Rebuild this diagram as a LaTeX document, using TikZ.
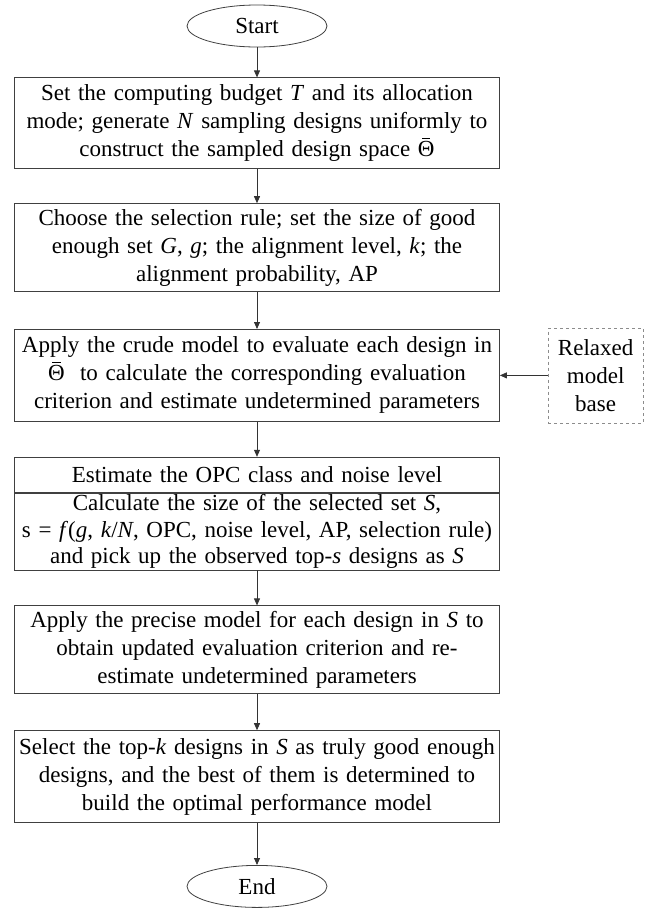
\documentclass[tikz,border=0pt]{standalone}
\usepackage{fontspec}
\setmainfont{Liberation Serif}
\usepackage{tikz}
\usetikzlibrary{arrows.meta, positioning, shapes.geometric}

\newcommand{\flowfont}{\fontsize{23}{28}\selectfont}
% theta with a short bar drawn as a rule
\newcommand{\thetabar}{\ooalign{\hfil\raisebox{0.76em}{\rule{0.36em}{0.05em}}\hfil\cr Θ}}

\begin{document}
\begin{tikzpicture}[
      node distance=36pt,
      flowbox/.style={
          draw=black!75,
          line width=0.8pt,
          rectangle,
          text width=477pt,
          inner xsep=4pt,
          inner ysep=2pt,
          align=center,
          font=\flowfont
      },
      terminal/.style={
          draw=black!75,
          line width=0.8pt,
          ellipse,
          minimum width=140pt,
          minimum height=42pt,
          font=\flowfont
      },
      arrow/.style={-{Triangle[length=7pt, width=6pt]}, line width=0.8pt, black!80}
  ]

  \useasboundingbox (0pt,0pt) rectangle (653pt,-908pt);

  % ==============================
  % main column
  % ==============================
  \node[terminal] (start) at (257pt,-26pt) {Start};

  \node[flowbox, minimum height=91pt, below=30pt of start] (budget)
      {Set the computing budget \textit{T} and its allocation\\
       mode; generate \textit{N} sampling designs uniformly to\\
       construct the sampled design space \thetabar};

  \node[flowbox, minimum height=88pt, below=34pt of budget] (rule)
      {Choose the selection rule; set the size of good\\
       enough set \textit{G}, \textit{g}; the alignment level, \textit{k}; the\\
       alignment probability, AP};

  \node[flowbox, minimum height=92pt, below=37pt of rule] (crude)
      {Apply the crude model to evaluate each design in\\
       \thetabar\ \ to calculate the corresponding evaluation\\
       criterion and estimate undetermined parameters};

  \node[flowbox, minimum height=35pt, below=35pt of crude] (opc)
      {Estimate the OPC class and noise level};

  \node[flowbox, minimum height=77pt, inner ysep=0pt,
        font=\fontsize{23}{26.5}\selectfont, below=0pt of opc] (size)
      {Calculate the size of the selected set \textit{S},\\
       s = \textit{f}(\textit{g}, \textit{k}/\textit{N}, OPC, noise level, AP, selection rule)\\
       and pick up the observed top-\textit{s} designs as \textit{S}};

  \node[flowbox, minimum height=88pt, below=35pt of size] (precise)
      {Apply the precise model for each design in \textit{S} to\\
       obtain updated evaluation criterion and re-\\
       estimate undetermined parameters};

  \node[flowbox, minimum height=92pt, below=36pt of precise] (select)
      {Select the top-\textit{k} designs in \textit{S} as truly good enough\\
       designs, and the best of them is determined to\\
       build the optimal performance model};

  \node[terminal, below=42pt of select] (end) {End};

  % ==============================
  % side input
  % ==============================
  \node[draw=black!45, dashed, line width=0.8pt, text width=88pt,
        minimum height=95pt, align=center, font=\flowfont,
        right=48pt of crude] (relaxed)
      {Relaxed\\model\\base};

  % ==============================
  % arrows
  % ==============================
  \draw[arrow] (start) -- (budget);
  \draw[arrow] (budget) -- (rule);
  \draw[arrow] (rule) -- (crude);
  \draw[arrow] (crude) -- (opc);
  \draw[arrow] (size) -- (precise);
  \draw[arrow] (precise) -- (select);
  \draw[arrow] (select) -- (end);
  \draw[arrow] (relaxed) -- (crude);

\end{tikzpicture}
\end{document}
